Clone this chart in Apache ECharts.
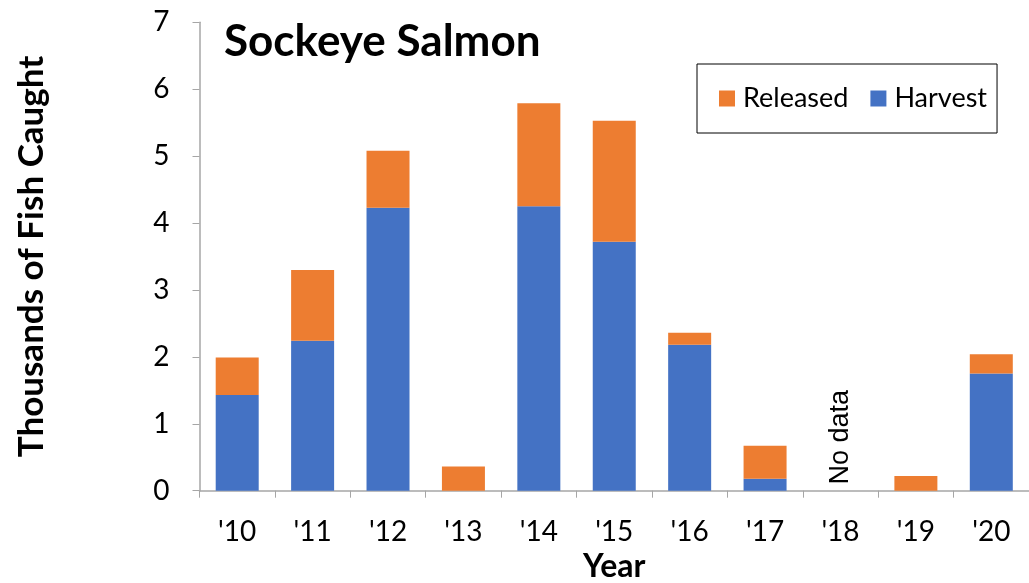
<!DOCTYPE html>
<html>
<head>
<meta charset="utf-8">
<script src="https://cdn.jsdelivr.net/npm/echarts@6/dist/echarts.min.js"></script>
<style>
  html, body { margin: 0; padding: 0; background: #fff; }
  #chart { width: 1029px; height: 583px; }
</style>
</head>
<body>
<div id="chart"></div>
<script>
// Data (thousands of fish)
const years = ["'10", "'11", "'12", "'13", "'14", "'15", "'16", "'17", "'18", "'19", "'20"];
const harvest = [1.43, 2.24, 4.23, 0, 4.25, 3.72, 2.18, 0.18, null, 0, 1.75];
const released = [0.56, 1.06, 0.85, 0.36, 1.54, 1.81, 0.18, 0.49, null, 0.22, 0.29];
const yTicks = [0, 1, 2, 3, 4, 5, 6, 7];

const font = 'Lato, "Open Sans", sans-serif';

const chart = echarts.init(document.getElementById('chart'));

chart.setOption({
    animation: false,
    title: {
        text: 'Sockeye Salmon',
        left: 219,
        top: 15,
        textStyle: { fontFamily: font, fontSize: 44, fontWeight: 'bold', color: '#000' }
    },
    legend: {
        data: ['Released', 'Harvest'],
        left: 697,
        top: 64,
        padding: [21, 10, 21, 22],
        borderColor: '#000',
        borderWidth: 1,
        itemWidth: 16,
        itemHeight: 16,
        itemGap: 22,
        icon: 'rect',
        textStyle: { fontFamily: font, fontSize: 27, color: '#000', padding: [0, 0, 0, 3] }
    },
    grid: {
        left: 199.5,
        right: 0,
        top: 22.3,
        bottom: 92.3,
        containLabel: false,
        outerBoundsMode: 'none'
    },
    xAxis: {
        type: 'category',
        data: years,
        name: 'Year',
        nameLocation: 'middle',
        nameGap: 58,
        nameTextStyle: { fontFamily: font, fontSize: 32, fontWeight: 'bold', color: '#000' },
        axisLine: { lineStyle: { color: '#a6a6a6', width: 1.5 } },
        axisTick: { show: true, length: 7, lineStyle: { color: '#a6a6a6' } },
        axisLabel: { fontFamily: font, fontSize: 28, color: '#000', margin: 27 }
    },
    yAxis: {
        type: 'value',
        min: yTicks[0],
        max: yTicks[yTicks.length - 1],
        interval: 1,
        name: 'Thousands of Fish Caught',
        nameLocation: 'middle',
        nameGap: 150,
        nameTextStyle: { fontFamily: font, fontSize: 35, fontWeight: 'bold', color: '#000' },
        splitLine: { show: false },
        axisLine: { show: true, lineStyle: { color: '#a6a6a6', width: 1.5 } },
        axisTick: { show: true, length: 7, lineStyle: { color: '#a6a6a6' } },
        axisLabel: { fontFamily: font, fontSize: 28, color: '#000', margin: 30 }
    },
    series: [
        {
            name: 'Harvest',
            type: 'bar',
            stack: 'total',
            data: harvest,
            barWidth: 43,
            itemStyle: { color: '#4472c4' },
            markPoint: {
                symbol: 'rect',
                symbolSize: 0,
                data: [{ coord: ["'18", 0.8] }],
                label: {
                    show: true,
                    formatter: 'No data',
                    rotate: 90,
                    position: 'inside',
                    fontFamily: '"Liberation Sans", Arial, sans-serif',
                    fontSize: 27,
                    color: '#000'
                }
            }
        },
        {
            name: 'Released',
            type: 'bar',
            stack: 'total',
            data: released,
            barWidth: 43,
            itemStyle: { color: '#ed7d31' }
        }
    ]
});
</script>
</body>
</html>
